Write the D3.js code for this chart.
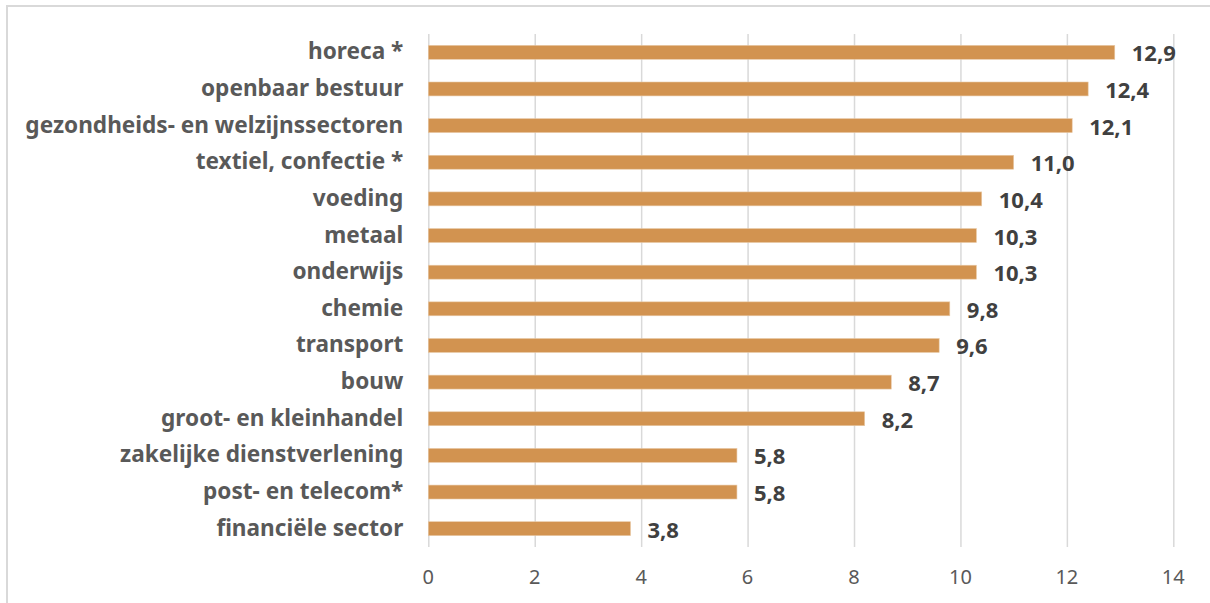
<!DOCTYPE html>
<html>
<head>
<meta charset="utf-8">
<style>
  body { margin: 0; background: #fff; }
  svg { display: block; font-family: "Noto Sans", "Open Sans", sans-serif; }
  .grid line { stroke: #d9d9d9; stroke-width: 1.5px; }
  .grid path { display: none; }
  .cat { fill: #595959; font-weight: bold; font-size: 22.6px; }
  .val { fill: #404040; font-weight: bold; font-size: 22px; }
  .tick-label { fill: #595959; font-size: 20px; }
</style>
<script src="https://d3js.org/d3.v7.min.js"></script>
</head>
<body>
<script>
var sectors = [
  "horeca *",
  "openbaar bestuur",
  "gezondheids- en welzijnssectoren",
  "textiel, confectie *",
  "voeding",
  "metaal",
  "onderwijs",
  "chemie",
  "transport",
  "bouw",
  "groot- en kleinhandel",
  "zakelijke dienstverlening",
  "post- en telecom*",
  "financiële sector"
];
var values = [12.9, 12.4, 12.1, 11.0, 10.4, 10.3, 10.3, 9.8, 9.6, 8.7, 8.2, 5.8, 5.8, 3.8];
var xTicks = [0, 2, 4, 6, 8, 10, 12, 14];

var W = 1210, H = 603;
var plot = { left: 428.3, right: 1173.3, top: 34, bottom: 547 };

var svg = d3.select("body").append("svg")
  .attr("width", W)
  .attr("height", H);

// frame round the chart
svg.append("rect")
  .attr("x", 7).attr("y", 6)
  .attr("width", W + 20).attr("height", H + 20)
  .attr("fill", "none")
  .attr("stroke", "#d9d9d9")
  .attr("stroke-width", 2);

var x = d3.scaleLinear().domain([0, 14]).range([plot.left, plot.right]);
var y = d3.scaleBand().domain(sectors)
  .range([plot.top, plot.bottom])
  .paddingInner(0.62)
  .paddingOuter(0.31);

// vertical gridlines
svg.append("g")
  .attr("class", "grid")
  .attr("transform", "translate(0," + plot.bottom + ")")
  .call(d3.axisBottom(x).tickValues(xTicks).tickSize(-(plot.bottom - plot.top)).tickFormat(""));

// tick labels
svg.append("g").selectAll("text")
  .data(xTicks)
  .join("text")
  .attr("class", "tick-label")
  .attr("x", function(d) { return x(d); })
  .attr("y", 584)
  .attr("text-anchor", "middle")
  .text(function(d) { return d; });

// bars
svg.append("g").selectAll("rect")
  .data(values)
  .join("rect")
  .attr("x", x(0))
  .attr("y", function(d, i) { return y(sectors[i]); })
  .attr("width", function(d) { return x(d) - x(0); })
  .attr("height", y.bandwidth())
  .attr("fill", "#d29350")
  .attr("stroke", "#e8c9a6")
  .attr("stroke-width", 0.6);

// category labels
svg.append("g").selectAll("text")
  .data(sectors)
  .join("text")
  .attr("class", "cat")
  .attr("x", x(0) - 25)
  .attr("y", function(d) { return y(d) + y.bandwidth() / 2 + 7; })
  .attr("text-anchor", "end")
  .text(function(d) { return d; });

// value labels
var fmt = function(v) { return v.toFixed(1).replace(".", ","); };
svg.append("g").selectAll("text")
  .data(values)
  .join("text")
  .attr("class", "val")
  .attr("x", function(d) { return x(d) + 17; })
  .attr("y", function(d, i) { return y(sectors[i]) + y.bandwidth() / 2 + 9; })
  .text(fmt);
</script>
</body>
</html>
